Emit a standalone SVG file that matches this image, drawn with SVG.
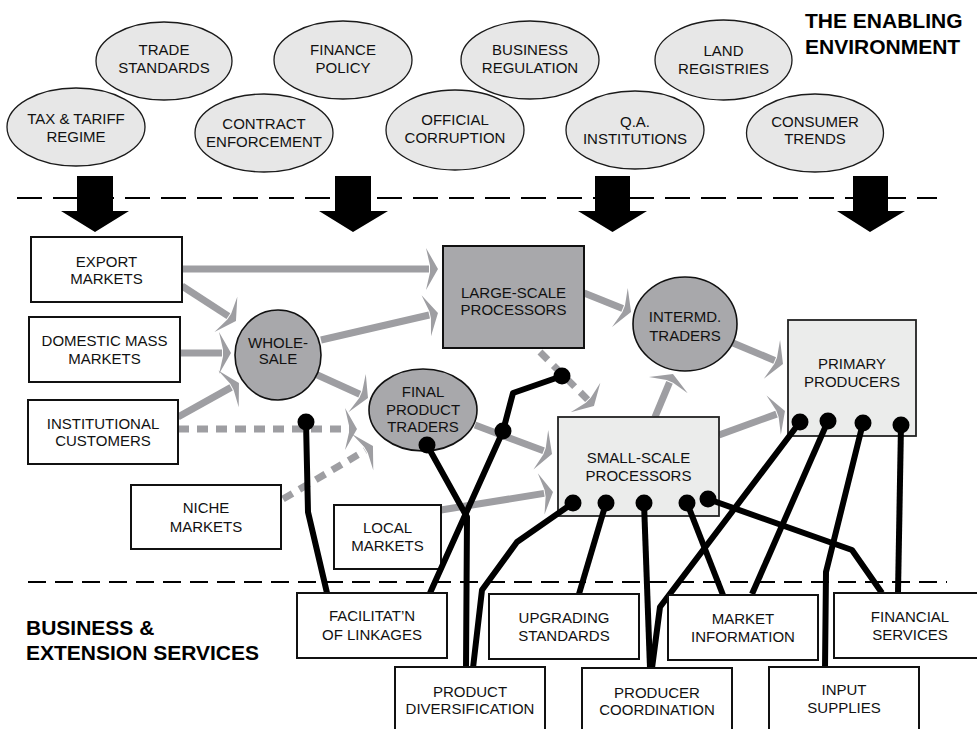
<svg xmlns="http://www.w3.org/2000/svg" width="977" height="729" viewBox="0 0 977 729">
<defs>
<style>
.env ellipse{fill:#e7e7e7;stroke:#1a1a1a;stroke-width:1.3}
.t{font-family:"Liberation Sans",Arial,sans-serif;font-size:15px;fill:#111;text-anchor:middle}
.title{font-family:"Liberation Sans",Arial,sans-serif;font-size:21px;font-weight:bold;fill:#000}
.box{fill:#fff;stroke:#111;stroke-width:2}
.dark{fill:#a8a8ab;stroke:#111;stroke-width:2}
.light{fill:#ebeceb;stroke:#222;stroke-width:1.8}
.flow{stroke:#9e9ea2;stroke-width:7;fill:none;marker-end:url(#ah)}
.dash{stroke-dasharray:11 8}
.link{stroke:#000;stroke-width:6;fill:none;stroke-linejoin:round}
.dot{fill:#000}
.sepTop{stroke:#000;stroke-width:2;stroke-dasharray:25 11;fill:none}
.sepBot{stroke:#000;stroke-width:2;stroke-dasharray:18 9;fill:none}
.big{fill:#000}
</style>
<marker id="ah" markerUnits="userSpaceOnUse" markerWidth="40" markerHeight="50" refX="0" refY="0" orient="auto" overflow="visible" viewBox="-20 -25 40 50">
<path d="M9,0 L-3,-21 L1,-3.5 L1,3.5 L-3,21 Z" fill="#9e9ea2"/>
</marker>
</defs>
<rect width="977" height="729" fill="#fff"/>

<g id="titles">
<text class="title" x="805" y="28">THE ENABLING</text>
<text class="title" x="805" y="54">ENVIRONMENT</text>
<text class="title" x="26" y="635">BUSINESS &amp;</text>
<text class="title" x="26" y="660">EXTENSION SERVICES</text>
</g>

<g id="separators">
<line class="sepTop" x1="17" y1="198" x2="937" y2="198"/>
<line class="sepBot" x1="28" y1="582" x2="947" y2="582"/>
</g>

<g id="environment" class="env">
<g id="env-trade"><ellipse cx="164" cy="61" rx="68" ry="39"/><text class="t" x="164" y="55">TRADE</text><text class="t" x="164" y="73">STANDARDS</text></g>
<g id="env-tax"><ellipse cx="76" cy="127" rx="69" ry="39"/><text class="t" x="76" y="124">TAX &amp; TARIFF</text><text class="t" x="76" y="142">REGIME</text></g>
<g id="env-finance"><ellipse cx="343" cy="60" rx="69" ry="39"/><text class="t" x="343" y="55">FINANCE</text><text class="t" x="343" y="73">POLICY</text></g>
<g id="env-contract"><ellipse cx="264" cy="133" rx="69" ry="39"/><text class="t" x="264" y="129">CONTRACT</text><text class="t" x="264" y="147">ENFORCEMENT</text></g>
<g id="env-corruption"><ellipse cx="455" cy="130" rx="69" ry="40"/><text class="t" x="455" y="125">OFFICIAL</text><text class="t" x="455" y="143">CORRUPTION</text></g>
<g id="env-business"><ellipse cx="530" cy="60" rx="69" ry="39"/><text class="t" x="530" y="55">BUSINESS</text><text class="t" x="530" y="73">REGULATION</text></g>
<g id="env-qa"><ellipse cx="635" cy="130" rx="69" ry="39"/><text class="t" x="635" y="127">Q.A.</text><text class="t" x="635" y="144">INSTITUTIONS</text></g>
<g id="env-land"><ellipse cx="723.5" cy="60" rx="68.5" ry="40"/><text class="t" x="723.5" y="56">LAND</text><text class="t" x="723.5" y="74">REGISTRIES</text></g>
<g id="env-consumer"><ellipse cx="815" cy="133" rx="68.5" ry="39"/><text class="t" x="815" y="127">CONSUMER</text><text class="t" x="815" y="144">TRENDS</text></g>
</g>

<g id="influence-arrows">
<polygon class="big" points="77,176 113,176 113,211 129,211 95,232 61,211 77,211"/>
<polygon class="big" points="335,176 371,176 371,211 388,211 353,232 319,211 335,211"/>
<polygon class="big" points="595,176 630,176 630,211 647,211 612.5,232 578,211 595,211"/>
<polygon class="big" points="853,176 888,176 888,211 905,211 870,232 837,211 853,211"/>
</g>

<g id="connectors">
<g id="flows">
<path class="flow" d="M182,269 L429,269"/>
<path class="flow" d="M182,286 L228.4,316.1"/>
<path class="flow" d="M180,353 L222,353"/>
<path class="flow" d="M178,417 L231.1,387.4"/>
<path class="flow" d="M321,340 L429.2,315"/>
<path class="flow" d="M313,373 L359.8,394.3"/>
<path class="flow dash" d="M178,429 L348,429"/>
<path class="flow dash" d="M283,499 L365.2,450.6"/>
<path class="flow" d="M584,293 L622.7,308.6"/>
<path class="flow dash" d="M540,352 L587.6,399.6"/>
<path class="flow" d="M655,417 L669.5,382.3"/>
<path class="flow" d="M733,343 L774.7,360.5"/>
<path class="flow" d="M719,435 L776.5,414.1"/>
<path class="flow" d="M475,425 L543.6,450.8"/>
<path class="flow" d="M441,510 L544.1,493.4"/>
</g>
</g>

<g id="markets">
<g id="export"><rect class="box" x="31" y="237" width="151" height="65"/><text class="t" x="106.5" y="267">EXPORT</text><text class="t" x="106.5" y="284">MARKETS</text></g>
<g id="domestic"><rect class="box" x="29" y="317" width="151" height="65"/><text class="t" x="104.5" y="346">DOMESTIC MASS</text><text class="t" x="104.5" y="364">MARKETS</text></g>
<g id="institutional"><rect class="box" x="28" y="400" width="150" height="64"/><text class="t" x="103" y="429">INSTITUTIONAL</text><text class="t" x="103" y="446">CUSTOMERS</text></g>
<g id="niche"><rect class="box" x="131" y="485" width="150" height="64"/><text class="t" x="206" y="513">NICHE</text><text class="t" x="206" y="531.5">MARKETS</text></g>
<g id="local"><rect class="box" x="334" y="505" width="107" height="64"/><text class="t" x="387.5" y="533">LOCAL</text><text class="t" x="387.5" y="551">MARKETS</text></g>
</g>

<g id="chain">
<g id="wholesale"><ellipse class="dark" cx="278" cy="355" rx="43" ry="45" style="stroke-width:1.6"/><text class="t" x="278" y="348">WHOLE-</text><text class="t" x="278" y="364">SALE</text></g>
<g id="final"><ellipse class="dark" cx="423" cy="410" rx="54" ry="41" style="stroke-width:1.6"/><text class="t" x="423" y="397">FINAL</text><text class="t" x="423" y="415">PRODUCT</text><text class="t" x="423" y="432">TRADERS</text></g>
<g id="large"><rect class="dark" x="443" y="246" width="141" height="102"/><text class="t" x="513.5" y="298">LARGE-SCALE</text><text class="t" x="513.5" y="315">PROCESSORS</text></g>
<g id="intermd"><ellipse class="dark" cx="685" cy="324" rx="52" ry="47" style="stroke-width:1.6"/><text class="t" x="685" y="322">INTERMD.</text><text class="t" x="685" y="340.5">TRADERS</text></g>
<g id="small"><rect class="light" x="558" y="417" width="161" height="99"/><text class="t" x="638.5" y="463">SMALL-SCALE</text><text class="t" x="638.5" y="481">PROCESSORS</text></g>
<g id="primary"><rect class="light" x="788" y="320" width="128" height="116"/><text class="t" x="852" y="369">PRIMARY</text><text class="t" x="852" y="387">PRODUCERS</text></g>
</g>

<g id="service-links">
<path class="link" d="M306,422 L308,512 L327,593"/>
<path class="link" d="M427,445 L467,517 L466,668"/>
<path class="link" d="M430,593 L503,431 L513,393 L562,376"/>
<path class="link" d="M573,503 L517,542 L482,590 L473,668"/>
<path class="link" d="M606,503 L579,594"/>
<path class="link" d="M644,503 L650,668"/>
<path class="link" d="M800,422 L660,607 L652,668"/>
<path class="link" d="M687,503 L723,595"/>
<path class="link" d="M708,499 L852,550 L882,593"/>
<path class="link" d="M828,421 L752,594"/>
<path class="link" d="M863,423 L826,572 L825,668"/>
<path class="link" d="M901,425 L898,593"/>
<circle class="dot" cx="306" cy="422" r="8.5"/>
<circle class="dot" cx="427" cy="445" r="8.5"/>
<circle class="dot" cx="503" cy="431" r="8.5"/>
<circle class="dot" cx="562" cy="376" r="8.5"/>
<circle class="dot" cx="573" cy="503" r="8.5"/>
<circle class="dot" cx="606" cy="503" r="8.5"/>
<circle class="dot" cx="644" cy="503" r="8.5"/>
<circle class="dot" cx="687" cy="503" r="8.5"/>
<circle class="dot" cx="708" cy="499" r="8.5"/>
<circle class="dot" cx="800" cy="422" r="8.5"/>
<circle class="dot" cx="828" cy="421" r="8.5"/>
<circle class="dot" cx="863" cy="423" r="8.5"/>
<circle class="dot" cx="901" cy="425" r="8.5"/>
</g>

<g id="services">
<g id="facilitation"><rect class="box" x="297" y="593" width="150" height="65"/><text class="t" x="372" y="621">FACILITAT’N</text><text class="t" x="372" y="640">OF LINKAGES</text></g>
<g id="diversification"><rect class="box" x="395" y="667" width="150" height="75"/><text class="t" x="470" y="697">PRODUCT</text><text class="t" x="470" y="714">DIVERSIFICATION</text></g>
<g id="upgrading"><rect class="box" x="489" y="594" width="150" height="65"/><text class="t" x="564" y="623">UPGRADING</text><text class="t" x="564" y="641">STANDARDS</text></g>
<g id="coordination"><rect class="box" x="582" y="668" width="150" height="75"/><text class="t" x="657" y="698">PRODUCER</text><text class="t" x="657" y="715">COORDINATION</text></g>
<g id="marketinfo"><rect class="box" x="668" y="595" width="150" height="65"/><text class="t" x="743" y="624">MARKET</text><text class="t" x="743" y="642">INFORMATION</text></g>
<g id="inputs"><rect class="box" x="769" y="667" width="150" height="75"/><text class="t" x="844" y="695">INPUT</text><text class="t" x="844" y="713">SUPPLIES</text></g>
<g id="financial"><rect class="box" x="834" y="593" width="150" height="65"/><text class="t" x="910" y="622">FINANCIAL</text><text class="t" x="910" y="640">SERVICES</text></g>
</g>
</svg>
